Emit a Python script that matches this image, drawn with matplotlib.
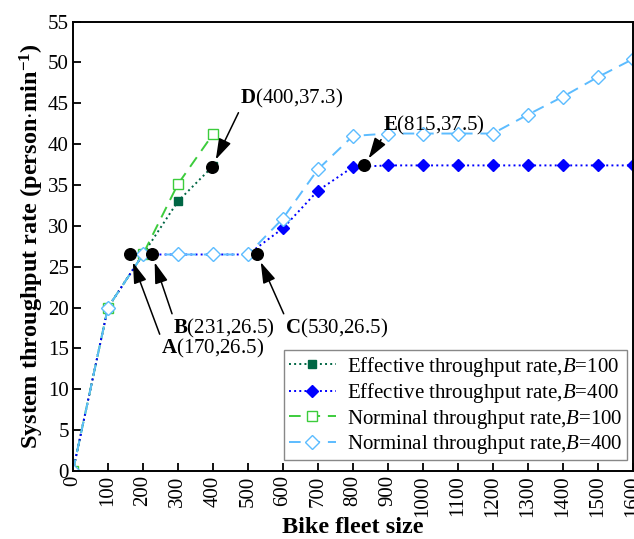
import numpy as np
import matplotlib.pyplot as plt

plt.rcParams['font.family'] = ['Liberation Serif', 'DejaVu Serif']
plt.rcParams['mathtext.fontset'] = 'custom'
plt.rcParams['mathtext.rm'] = 'Liberation Serif'
plt.rcParams['mathtext.it'] = 'Liberation Serif:italic'
plt.rcParams['mathtext.bf'] = 'Liberation Serif:bold'

# Data
x_b100 = [0, 100, 200, 300, 400]
eff_b100 = [0, 20, 26.5, 33.0, 37.3]
nom_b100 = [0, 20, 26.5, 35.1, 41.2]

x_b400 = [0, 100, 200, 300, 400, 500, 600, 700, 800, 900, 1000, 1100, 1200, 1300, 1400, 1500, 1600]
eff_b400 = [0, 20, 26.5, 26.5, 26.5, 26.5, 29.7, 34.3, 37.2, 37.4, 37.4, 37.4, 37.4, 37.4, 37.4, 37.4, 37.4]
nom_b400 = [0, 20, 26.5, 26.5, 26.5, 26.5, 30.9, 36.9, 41.0, 41.3, 41.3, 41.3, 41.3, 43.6, 45.8, 48.2, 50.4]

# Key points and their labels
pt_names = ['A', 'B', 'C', 'D', 'E']
pt_x = [163, 226, 527, 398, 832]
pt_y = [26.5, 26.5, 26.5, 37.2, 37.4]
pt_text = ['(170,26.5)', '(231,26.5)', '(530,26.5)', '(400,37.3)', '(815,37.5)']
txt_x = [251, 286, 606, 477, 886]
txt_y = [15.0, 17.5, 17.5, 45.6, 42.3]
txt_corner = [(0.0, 1.0), (0.0, 1.0), (0.0, 1.0), (0.0, 0.0), (0.0, 0.0)]

fig, ax = plt.subplots(figsize=(6.34, 5.39), dpi=100)
fig.subplots_adjust(left=0.115, right=0.998, bottom=0.126, top=0.96)

ax.plot(x_b100, eff_b100, ls=':', color='#006644', marker='s', ms=5.5,
        mfc='#006644', mec='#006644', lw=1.4, label=r'Effective throughput rate,$\it{B}$=100')
ax.plot(x_b400, eff_b400, ls=':', color='#0000ff', marker='D', ms=6.5,
        mfc='#0000ff', mec='#0000ff', lw=1.4, label=r'Effective throughput rate,$\it{B}$=400')
ax.plot(x_b100, nom_b100, ls=(0, (6, 4)), color='#3ccc3c', marker='s', ms=6.5,
        mfc='white', mec='#3ccc3c', lw=1.4, label=r'Norminal throughput rate,$\it{B}$=100')
ax.plot(x_b400, nom_b400, ls=(0, (6, 4)), color='#5cbcff', marker='D', ms=7.5,
        mfc='white', mec='#5cbcff', lw=1.4, label=r'Norminal throughput rate,$\it{B}$=400')

ax.scatter(pt_x, pt_y, s=70, color='black', zorder=5)
for n, px, py, t, tx, ty, rp in zip(pt_names, pt_x, pt_y, pt_text, txt_x, txt_y, txt_corner):
    ax.annotate(r'$\mathbf{' + n + '}$' + t, xy=(px, py), xytext=(tx, ty),
                fontsize=15, ha='left', va='center',
                arrowprops=dict(arrowstyle='-|>,head_length=0.8,head_width=0.25',
                                color='black', lw=1.1, relpos=rp,
                                shrinkA=0, shrinkB=6, mutation_scale=16))

ax.set_xlim(0, 1600)
ax.set_ylim(0, 55)
ax.set_xticks(np.arange(0, 1601, 100))
ax.set_yticks(np.arange(0, 56, 5))
ax.tick_params(direction='in', labelsize=15, length=6, width=1.3, pad=3)
plt.setp(ax.get_xticklabels(), rotation=90)
for s in ax.spines.values():
    s.set_linewidth(1.4)

ax.set_xlabel('Bike fleet size', fontsize=17.5, fontweight='bold', labelpad=0)
ax.set_ylabel(r'System throughput rate (person$\cdot$min$^{\mathbf{-1}}$)',
              fontsize=17.5, fontweight='bold', labelpad=1)

ax.legend(loc='lower right', bbox_to_anchor=(0.989, 0.024), fontsize=15,
          frameon=True, fancybox=False, edgecolor='#888888', framealpha=1,
          handlelength=2.3, handletextpad=0.5, borderpad=0.2,
          labelspacing=0.12, borderaxespad=0)

fig.savefig('out.png', dpi=100)
